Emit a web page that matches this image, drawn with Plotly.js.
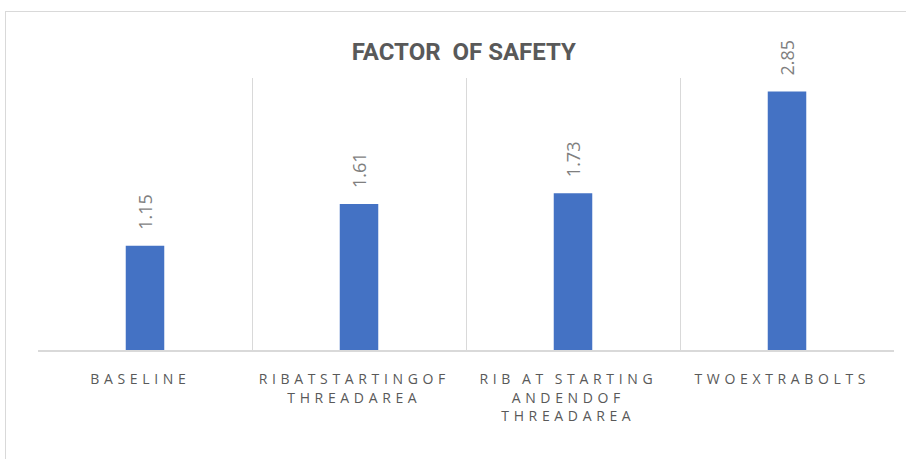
<!DOCTYPE html>
<html>
<head>
<meta charset="utf-8">
<script src="https://cdn.plot.ly/plotly-3.0.1.min.js"></script>
<style>
  html, body { margin: 0; padding: 0; background: #fff; overflow: hidden; }
  #frame { position: absolute; left: 5px; top: 11px; width: 960px; height: 500px; border: 1px solid #d9d9d9; }
  #chart { position: absolute; left: 0; top: 0; width: 906px; height: 459px; }
</style>
</head>
<body>
<div id="frame"></div>
<div id="chart"></div>
<script>
const categories = [
  "BASELINE",
  "RIBATSTARTINGOF<br>THREADAREA",
  "RIB AT STARTING<br>ANDENDOF<br>THREADAREA",
  "TWOEXTRABOLTS"
];
const values = [1.15, 1.61, 1.73, 2.85];
const valueLabels = ["1.15", "1.61", "1.73", "2.85"];
const chartTitle = "FACTOR  OF SAFETY";

function spaced(s) {
  return s.split("<br>").map(line =>
    line.split("").map(ch => ch === " " ? "\u2009" : ch).join("\u2009\u2009")
  ).join("<br>");
}

const trace = {
  type: "bar",
  x: categories,
  y: values,
  marker: { color: "#4472C4" },
  hoverinfo: "none"
};

const labelAnnotations = categories.map((c, i) => ({
  x: c,
  y: values[i],
  xref: "x",
  yref: "y",
  text: valueLabels[i],
  textangle: -90,
  showarrow: false,
  xanchor: "center",
  yanchor: "bottom",
  yshift: 14,
  font: { family: "Open Sans, sans-serif", size: 18, color: "#7f7f7f" }
}));

const layout = {
  width: 906,
  height: 459,
  margin: { l: 38, r: 12, t: 78, b: 109 },
  paper_bgcolor: "rgba(0,0,0,0)",
  plot_bgcolor: "rgba(0,0,0,0)",
  bargap: 0.82,
  showlegend: false,
  annotations: labelAnnotations,
  title: {
    text: "<b>" + chartTitle + "</b>",
    x: 0.512, xanchor: "center",
    y: 0.888, yanchor: "middle",
    font: { family: "Liberation Sans Narrow, Roboto, sans-serif", size: 24, color: "#595959" }
  },
  xaxis: {
    type: "category",
    tickvals: categories,
    ticktext: categories.map(spaced),
    tickson: "boundaries",
    showgrid: true,
    gridcolor: "#d9d9d9",
    gridwidth: 1,
    ticks: "",
    ticklabelstandoff: 16,
    ticklabelshift: -7,
    showline: true,
    linecolor: "#d9d9d9",
    linewidth: 1.5,
    tickfont: { family: "Open Sans, sans-serif", size: 14, color: "#595959" },
    fixedrange: true
  },
  yaxis: {
    range: [0, 3],
    showgrid: false,
    showticklabels: false,
    zeroline: false,
    showline: false,
    fixedrange: true
  }
};

Plotly.newPlot("chart", [trace], layout, { staticPlot: true, displayModeBar: false });
</script>
</body>
</html>
